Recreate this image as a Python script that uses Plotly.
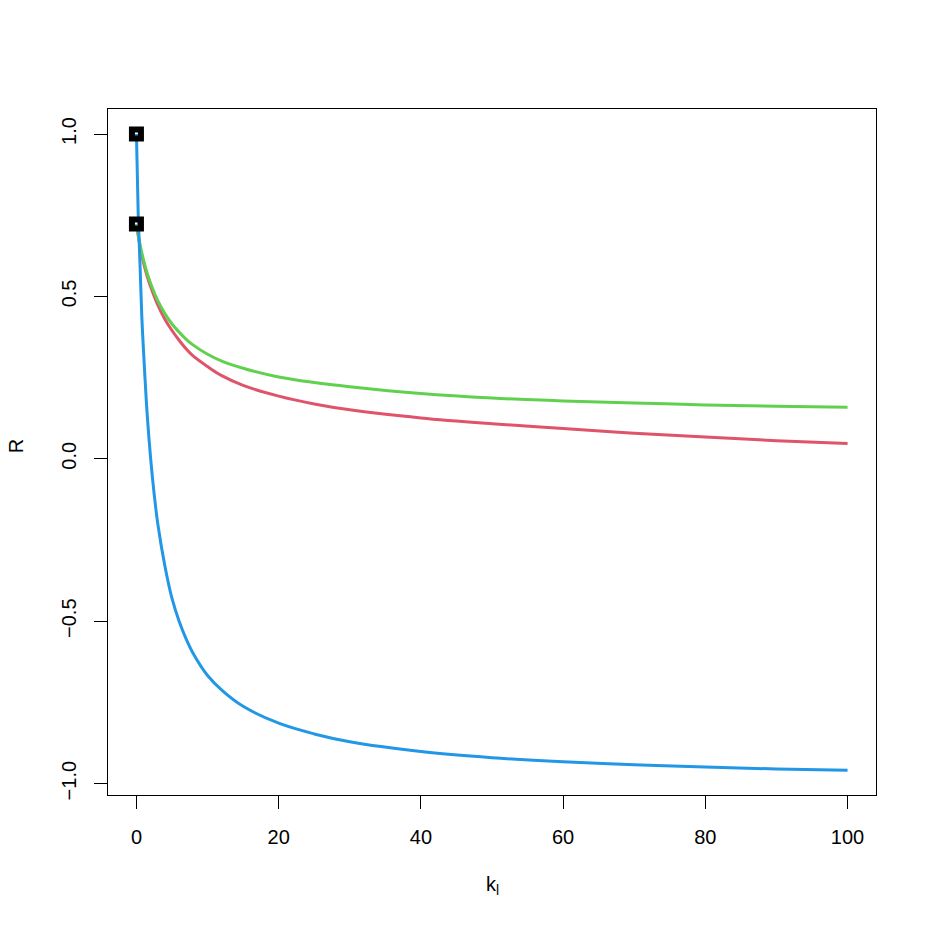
import plotly.graph_objects as go

# Values
k_blue = [0, 0.25, 0.5, 0.75, 1, 1.5, 2, 2.5, 3, 4, 5, 6, 7, 8, 10, 12, 15, 20, 25, 30, 40,
          50, 60, 70, 80, 90, 100]
r_blue = [1.0, 0.75, 0.6, 0.44, 0.33, 0.14, 0.0, -0.11, -0.2, -0.33, -0.43, -0.5, -0.555, -0.6,
          -0.667, -0.712, -0.762, -0.814, -0.847, -0.871, -0.901, -0.920, -0.933, -0.942, -0.949,
          -0.955, -0.959]

k_rg = [0, 0.5, 1, 1.5, 2, 3, 4, 5, 6, 7, 8, 10, 12, 15, 20, 25, 30, 40, 50, 60, 70, 80, 90, 100]
r_green = [0.723, 0.66, 0.612, 0.572, 0.54, 0.487, 0.447, 0.415, 0.39, 0.368, 0.35, 0.322, 0.301,
           0.279, 0.252, 0.235, 0.222, 0.201, 0.187, 0.178, 0.172, 0.166, 0.162, 0.159]
r_red = [0.723, 0.655, 0.603, 0.563, 0.53, 0.474, 0.43, 0.395, 0.365, 0.338, 0.316, 0.284, 0.256,
         0.226, 0.193, 0.169, 0.151, 0.126, 0.108, 0.093, 0.079, 0.067, 0.056, 0.047]

k_start = [0, 0]
r_start = [1.0, 0.723]

x_ticks = [0, 20, 40, 60, 80, 100]
y_ticks = [-1.0, -0.5, 0.0, 0.5, 1.0]
y_tick_labels = ['\u22121.0', '\u22120.5', '0.0', '0.5', '1.0']

font = 'Liberation Sans, Arial, sans-serif'

fig = go.Figure()
fig.add_trace(go.Scatter(x=k_rg, y=r_red, mode='lines', line=dict(color='#DF536B', width=3, shape='spline')))
fig.add_trace(go.Scatter(x=k_rg, y=r_green, mode='lines', line=dict(color='#61D04F', width=3, shape='spline')))
fig.add_trace(go.Scatter(x=k_blue, y=r_blue, mode='lines', line=dict(color='#2297E6', width=3, shape='spline')))
fig.add_trace(go.Scatter(x=k_start, y=r_start, mode='markers',
                         marker=dict(symbol='square-open', size=9, color='black',
                                     line=dict(color='black', width=6))))

# the page body adds 8px on the top and left, so the figure is 8px smaller
fig.update_layout(width=924, height=924, showlegend=False,
                  paper_bgcolor='white', plot_bgcolor='white',
                  margin=dict(l=100, r=56, t=101, b=137),
                  font=dict(family=font, size=20, color='black'))

fig.update_xaxes(range=[-4, 104], tickvals=x_ticks, ticks='outside', ticklen=13, tickwidth=1,
                 tickcolor='black', showline=True, linecolor='black', linewidth=1, mirror=True,
                 showgrid=False, zeroline=False, ticklabelstandoff=11)
fig.update_yaxes(range=[-1.035, 1.077], tickvals=y_ticks, ticktext=y_tick_labels, tickangle=-90,
                 ticks='outside', ticklen=13, tickwidth=1, tickcolor='black', showline=True,
                 linecolor='black', linewidth=1, mirror=True, showgrid=False, zeroline=False,
                 ticklabelstandoff=10)

# Axis titles
fig.add_annotation(text='k<sub>l</sub>', x=0.5, y=-0.132, xref='paper', yref='paper',
                   showarrow=False, font=dict(size=20), xanchor='center', yanchor='middle')
fig.add_annotation(text='R', x=-0.12, y=0.508, xref='paper', yref='paper', textangle=-90,
                   showarrow=False, font=dict(size=20), xanchor='center', yanchor='middle')

fig.write_html('out.html')
